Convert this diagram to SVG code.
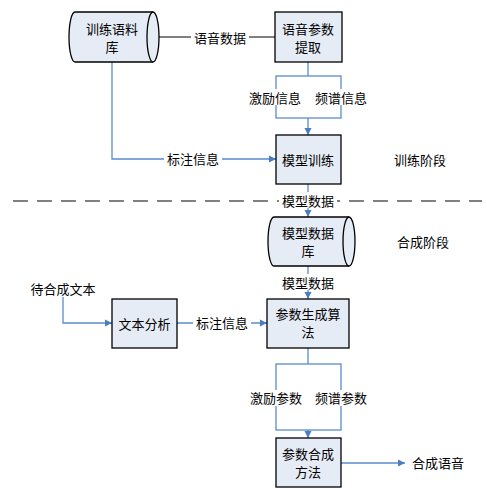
<svg xmlns="http://www.w3.org/2000/svg" width="487" height="493" viewBox="0 0 487 493">
<style>
text{font-family:"Noto Sans CJK SC","Liberation Sans",sans-serif;font-size:13px;fill:#000;text-anchor:middle;dominant-baseline:central}
.box{fill:#E6ECF6;stroke:#000;stroke-width:1.3}
.bl{fill:none;stroke:#5B8BCB;stroke-width:1.3}
.bk{fill:none;stroke:#000;stroke-width:1}
.bg{fill:#fff}
</style>
<defs>
<marker id="ar" markerWidth="8" markerHeight="8" refX="7" refY="4" orient="auto" markerUnits="userSpaceOnUse">
<path d="M0,0.5 L7,4 L0,7.5 Z" fill="#4A7EC2"/>
</marker>
</defs>
<rect width="487" height="493" fill="#fff"/>
<g id="connectors">
<line class="bk" x1="158" y1="37" x2="275" y2="37"/>
<rect class="bg" x="191" y="29" width="58" height="16"/>
<text x="220" y="37">语音数据</text>
<line class="bl" x1="308" y1="62" x2="308" y2="76"/>
<rect class="bl" x="276" y="76" width="65" height="42"/>
<rect class="bg" x="246" y="89" width="58" height="16"/>
<text x="275" y="97">激励信息</text>
<rect class="bg" x="312" y="89" width="58" height="16"/>
<text x="341" y="97">频谱信息</text>
<line class="bl" x1="308" y1="118" x2="308" y2="135" marker-end="url(#ar)"/>
<polyline class="bl" points="112,62 112,159 276,159" marker-end="url(#ar)"/>
<rect class="bg" x="164" y="151" width="58" height="16"/>
<text x="193" y="158">标注信息</text>
<line x1="13" y1="201" x2="482" y2="201" stroke="#808080" stroke-width="2" stroke-dasharray="15 9"/>
<line class="bl" x1="308" y1="184" x2="308" y2="217" marker-end="url(#ar)"/>
<rect class="bg" x="279" y="192" width="58" height="16"/>
<text x="308" y="200">模型数据</text>
<line class="bl" x1="308" y1="266" x2="308" y2="299" marker-end="url(#ar)"/>
<rect class="bg" x="279" y="274" width="58" height="16"/>
<text x="308" y="282">模型数据</text>
<polyline class="bl" points="63,297 63,323 112,323" marker-end="url(#ar)"/>
<line class="bl" x1="177" y1="323" x2="267" y2="323" marker-end="url(#ar)"/>
<rect class="bg" x="193" y="315" width="58" height="16"/>
<text x="222" y="322">标注信息</text>
<line class="bl" x1="308" y1="348" x2="308" y2="364"/>
<rect class="bl" x="276" y="364" width="65" height="66"/>
<rect class="bg" x="247" y="390" width="58" height="16"/>
<text x="276" y="397">激励参数</text>
<rect class="bg" x="312" y="390" width="58" height="16"/>
<text x="341" y="397">频谱参数</text>
<line class="bl" x1="308" y1="430" x2="308" y2="438" marker-end="url(#ar)"/>
<line class="bl" x1="341" y1="463" x2="405" y2="463" marker-end="url(#ar)"/>
</g>
<g id="corpus">
<path class="box" d="M75,12 L153,12 A6,25 0 0 1 153,62 L75,62 A6,25 0 0 1 75,12 Z"/>
<path class="box" d="M153,12 A6,25 0 0 0 153,62"/>
<text x="112" y="28">训练语料</text>
<text x="112" y="46">库</text>
</g>
<g id="extract">
<rect class="box" x="275" y="12" width="67" height="50"/>
<text x="308" y="28">语音参数</text>
<text x="308" y="46">提取</text>
</g>
<g id="train">
<rect class="box" x="276" y="135" width="65" height="49"/>
<text x="308" y="159">模型训练</text>
</g>
<text x="420" y="159">训练阶段</text>
<g id="modeldb">
<path class="box" d="M274,217 L349,217 A6,24.5 0 0 1 349,266 L274,266 A6,24.5 0 0 1 274,217 Z"/>
<path class="box" d="M349,217 A6,24.5 0 0 0 349,266"/>
<text x="308" y="232">模型数据</text>
<text x="308" y="250">库</text>
</g>
<text x="423" y="241">合成阶段</text>
<text x="63" y="288">待合成文本</text>
<g id="textanalysis">
<rect class="box" x="112" y="299" width="65" height="49"/>
<text x="144.5" y="323">文本分析</text>
</g>
<g id="paramgen">
<rect class="box" x="267" y="299" width="82" height="49"/>
<text x="308" y="313">参数生成算</text>
<text x="308" y="331">法</text>
</g>
<g id="synth">
<rect class="box" x="276" y="438" width="65" height="49"/>
<text x="308" y="453">参数合成</text>
<text x="308" y="471">方法</text>
</g>
<text x="438" y="462">合成语音</text>
</svg>
